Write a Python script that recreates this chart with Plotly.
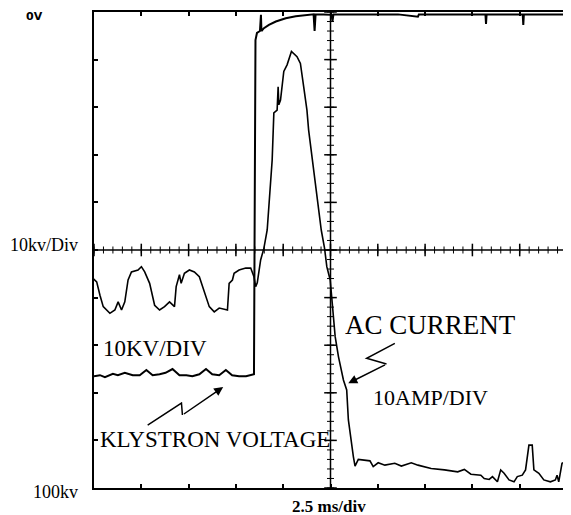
import plotly.graph_objects as go

# ---- data (time in ms, 2.5 ms/div) ----
klystron_t = [0, 0.315, 0.578, 0.998, 1.261, 1.628, 2.048, 2.416, 2.768, 3.099, 3.466, 3.781,
              4.149, 4.517, 4.884, 5.199, 5.567, 5.919, 6.250, 6.617, 6.969, 7.300, 7.668, 8.035,
              8.455, 8.508, 8.535, 8.613, 8.771, 8.824, 8.850, 8.981, 9.244, 9.611, 10.136,
              10.662, 11.187, 11.449, 11.607, 11.659, 11.712, 12.132, 12.552, 12.605, 12.657,
              13.970, 16.07, 17.12, 17.17, 18.70, 20.69, 20.72, 20.75, 21.32, 22.66, 22.69,
              22.72, 23.95, 25.0]
klystron_kv = [-76.5, -76.3, -76.7, -76.0, -76.3, -75.8, -76.3, -76.3, -75.2, -76.3, -76.1, -75.8,
               -75.0, -76.3, -76.3, -76.5, -76.1, -75.0, -76.1, -76.3, -75.2, -76.3, -76.5, -76.5,
               -76.1, -10.1, -5.9, -4.4, -4.0, -0.6, -4.0, -3.4, -2.7, -2.0, -1.3,
               -0.9, -0.6, -0.5, -0.5, -4.0, -0.5, -0.5, -0.6, -1.9, -0.5,
               -0.5, -0.5, -1.0, -0.5, -0.5, -0.5, -2.5, -0.5, -0.5, -0.5, -2.7,
               -0.5, -0.5, -0.5]

current_t = [-0.3, 0.142, 0.315, 0.488, 0.840, 1.103, 1.276, 1.455, 1.628, 1.801, 1.980, 2.327,
             2.505, 2.679, 2.941, 3.204, 3.466, 3.729, 3.992, 4.254, 4.343, 4.517, 4.606, 4.779,
             5.042, 5.305, 5.567, 5.830, 6.092, 6.355, 6.617, 7.053, 7.143, 7.316, 7.405, 7.668,
             8.020, 8.283, 8.455, 8.545, 8.629, 8.808, 8.981, 9.154, 9.417, 9.506, 9.679, 9.732,
             9.769, 9.858, 10.031, 10.205, 10.436, 10.730, 10.909, 11.082, 11.255, 11.344,
             11.517, 12.011, 12.185, 12.305, 12.484, 12.605, 12.747, 12.920, 13.183, 13.356,
             13.445, 13.708, 13.797, 13.970, 14.585, 14.758, 15.020, 15.372, 15.898, 16.245,
             16.770, 17.122, 17.820, 18.524, 19.222, 19.574, 19.921, 20.446, 20.624, 20.887,
             21.061, 21.323, 21.496, 21.675, 21.937, 22.200, 22.373, 22.636, 22.809, 22.988,
             23.161, 23.250, 23.513, 23.775, 24.122, 24.385, 24.474, 24.563, 24.736, 24.910]
current_a = [45.0, 43.3, 40.5, 38.1, 36.7, 37.4, 39.1, 37.4, 39.1, 43.7, 45.4, 45.8,
             46.5, 45.4, 43.0, 38.4, 37.4, 38.1, 39.1, 38.1, 42.3, 44.8, 43.0, 45.1,
             45.8, 45.4, 44.4, 41.2, 38.1, 37.0, 37.8, 37.4, 43.0, 43.7, 45.1, 45.8,
             46.2, 46.2, 44.4, 42.3, 43.1, 47.9, 50.4, 54.2, 68.9, 78.8, 79.4, 84.3,
             80.5, 81.5, 87.5, 88.9, 91.7, 90.6, 89.2, 84.3, 79.4, 75.2,
             69.6, 54.2, 50.4, 46.5, 43.7, 38.1, 31.8, 27.6, 22.7, 20.6,
             14.3, 6.6, 4.6, 6.0, 5.7, 4.5, 5.3, 4.8, 5.2, 4.6,
             5.3, 4.8, 4.1, 3.8, 3.4, 3.9, 2.9, 2.7, 2.0, 1.8,
             2.4, 1.3, 3.8, 3.1, 1.7, 1.3, 2.4, 2.7, 3.8, 9.0,
             9.0, 3.8, 3.1, 1.7, 1.3, 1.7, 2.7, 1.3, 5.2, 5.5]

# graticule (2.5 ms/div horizontally, 10 kV/div vertically)
div_t = [0, 2.5, 5, 7.5, 10, 12.5, 15, 17.5, 20, 22.5, 25]
div_kv = [-100, -90, -80, -70, -60, -50, -40, -30, -20, -10, 0]
minor_t = [i * 0.5 for i in range(51)]
minor_kv = [-100 + i * 2 for i in range(51)]
center_t = 12.5
center_kv = -50

T_RANGE = [0, 25]
KV_RANGE = [-100, 0]

fig = go.Figure()

# centre cross with tick marks
fig.add_trace(go.Scatter(x=minor_t, y=[center_kv] * len(minor_t), mode="lines+markers",
                         line=dict(color="black", width=1.5),
                         marker=dict(symbol="line-ns", size=5, line=dict(color="black", width=1)),
                         hoverinfo="skip", showlegend=False))
fig.add_trace(go.Scatter(x=[center_t] * len(minor_kv), y=minor_kv, mode="lines+markers",
                         line=dict(color="black", width=1.5),
                         marker=dict(symbol="line-ew", size=5, line=dict(color="black", width=1)),
                         hoverinfo="skip", showlegend=False))
fig.add_trace(go.Scatter(x=div_t, y=[center_kv] * len(div_t), mode="markers",
                         marker=dict(symbol="line-ns", size=9, line=dict(color="black", width=1.5)),
                         hoverinfo="skip", showlegend=False))
fig.add_trace(go.Scatter(x=[center_t] * len(div_kv), y=div_kv, mode="markers",
                         marker=dict(symbol="line-ew", size=9, line=dict(color="black", width=1.5)),
                         hoverinfo="skip", showlegend=False))

# traces
fig.add_trace(go.Scatter(x=klystron_t, y=klystron_kv, mode="lines",
                         line=dict(color="black", width=2), name="Klystron voltage",
                         showlegend=False))
fig.add_trace(go.Scatter(x=current_t, y=current_a, mode="lines", yaxis="y2",
                         line=dict(color="black", width=1.6), name="AC current",
                         showlegend=False))

serif = "Liberation Serif, Times New Roman, serif"


def px(t):
    return (t - T_RANGE[0]) / (T_RANGE[1] - T_RANGE[0])


def py(kv):
    return (kv - KV_RANGE[0]) / (KV_RANGE[1] - KV_RANGE[0])


def label(text, t, kv, size, family=serif, xanchor="center"):
    fig.add_annotation(text=text, x=px(t), y=py(kv), xref="paper", yref="paper",
                       xanchor=xanchor, yanchor="middle", showarrow=False,
                       font=dict(family=family, size=size, color="black"))


label("<b>0V</b>", -3.15, -0.9, 11, family="DejaVu Sans, sans-serif")
label("10kv/Div", -0.75, -49.0, 18, xanchor="right")
label("100kv", -0.75, -100.9, 18, xanchor="right")
label("<b>2.5 ms/div</b>", 12.4, -103.9, 17)
label("10KV/DIV", 3.2, -70.6, 23)
label("KLYSTRON VOLTAGE", 6.4, -89.9, 23)
label("AC CURRENT", 17.8, -65.8, 27)
label("10AMP/DIV", 17.8, -80.9, 22)

# lightning-style pointer arrows
fig.add_shape(type="path", path="M 2.836 -86.77 L 4.622 -82.15 L 4.674 -84.67",
              xref="x", yref="y", line=dict(color="black", width=1.5))
fig.add_annotation(x=6.828, y=-78.79, ax=4.674, ay=-84.67, xref="x", yref="y",
                   axref="x", ayref="y", text="", showarrow=True, arrowhead=2,
                   arrowsize=1.2, arrowwidth=1.5, arrowcolor="black")
fig.add_shape(type="path", path="M 15.90 -69.61 L 14.41 -72.76 L 15.46 -73.96",
              xref="x", yref="y", line=dict(color="black", width=1.5))
fig.add_annotation(x=13.44, y=-78.01, ax=15.46, ay=-73.96, xref="x", yref="y",
                   axref="x", ayref="y", text="", showarrow=True, arrowhead=2,
                   arrowsize=1.2, arrowwidth=1.5, arrowcolor="black")

axis_style = dict(showgrid=False, zeroline=False, showticklabels=False, ticks="inside",
                  ticklen=4, tickwidth=1.5, tickcolor="black", showline=True,
                  linecolor="black", linewidth=2, mirror="ticks")

# page body has an 8px margin, so the figure is sized to end at the window edge
fig.update_layout(
    width=563, height=507,
    margin=dict(l=86, r=2, t=3, b=27),
    paper_bgcolor="white", plot_bgcolor="white",
    xaxis=dict(range=T_RANGE, tickvals=div_t, **axis_style),
    yaxis=dict(range=KV_RANGE, tickvals=div_kv, **axis_style),
    yaxis2=dict(range=[0, 100], overlaying="y", visible=False),
    showlegend=False,
)

fig.write_html("out.html")
